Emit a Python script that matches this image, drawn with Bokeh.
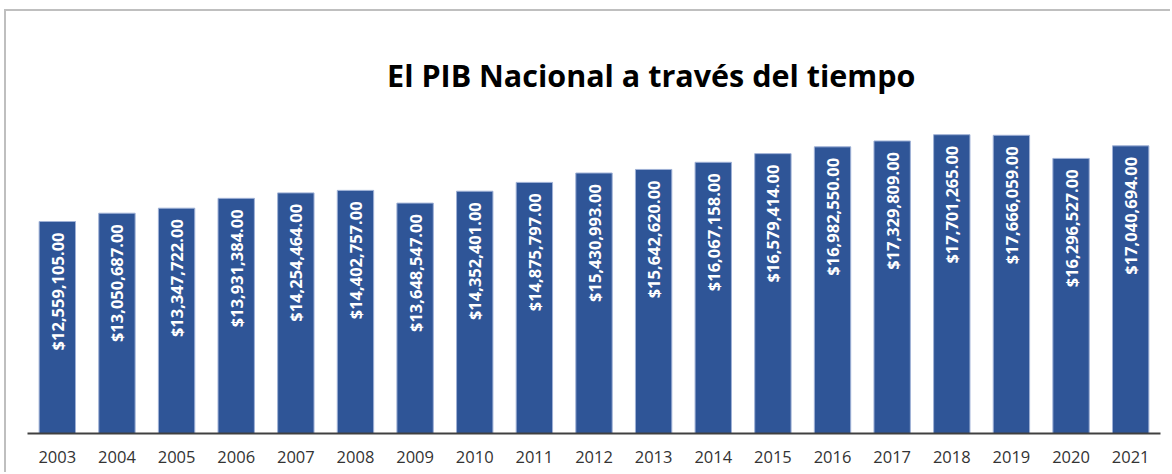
import math
from bokeh.plotting import figure
from bokeh.models import ColumnDataSource, FactorRange, Range1d, Label
from bokeh.core.properties import value
from bokeh.embed import file_html
from bokeh.resources import INLINE

years = ["2003", "2004", "2005", "2006", "2007", "2008", "2009", "2010", "2011",
         "2012", "2013", "2014", "2015", "2016", "2017", "2018", "2019", "2020", "2021"]
pib = [12559105, 13050687, 13347722, 13931384, 14254464, 14402757, 13648547,
       14352401, 14875797, 15430993, 15642620, 16067158, 16579414, 16982550,
       17329809, 17701265, 17666059, 16296527, 17040694]
labels = ["${:,.2f}".format(v) for v in pib]
title_text = "El PIB Nacional a través del tiempo"

src = ColumnDataSource(dict(year=years, pib=pib, label=labels))

p = figure(width=1166, height=463, output_backend="svg", toolbar_location=None,
           x_range=FactorRange(*years, range_padding=0),
           y_range=Range1d(0, 25000000),
           y_axis_location=None, min_border_left=21, min_border_right=12,
           min_border_top=0, min_border_bottom=41)
p.styles = {"margin-left": "4px", "margin-top": "9px",
            "border-left": "2px solid #bfbfbf", "border-top": "2px solid #bfbfbf"}
p.outline_line_color = None
p.xgrid.visible = False
p.ygrid.visible = False
p.background_fill_color = "white"
p.border_fill_color = "white"

p.vbar(x="year", top="pib", width=0.61, source=src, fill_color="#2F5597",
       line_color="#9fb1d6", line_width=1)

p.text(x="year", y="pib", text="label", source=src, angle=math.pi / 2,
       text_align="right", text_baseline="middle", y_offset=11,
       text_color="white", text_font=value("Open Sans"), text_font_style="bold",
       text_font_size="16.5px")

p.xaxis.axis_line_color = "#404040"
p.xaxis.axis_line_width = 2
p.xaxis.major_tick_line_color = None
p.xaxis.minor_tick_line_color = None
p.xaxis.major_label_standoff = 11
p.xaxis.major_label_text_font = "Open Sans"
p.xaxis.major_label_text_font_size = "16.5px"
p.xaxis.major_label_text_color = "#333333"

p.add_layout(Label(x=10.46, y=21250000, text=title_text, text_align="center",
                   text_baseline="alphabetic", text_font="Open Sans",
                   text_font_style="bold", text_font_size="30.5px",
                   text_color="black"))

open("out.html", "w").write(file_html(p, INLINE))
